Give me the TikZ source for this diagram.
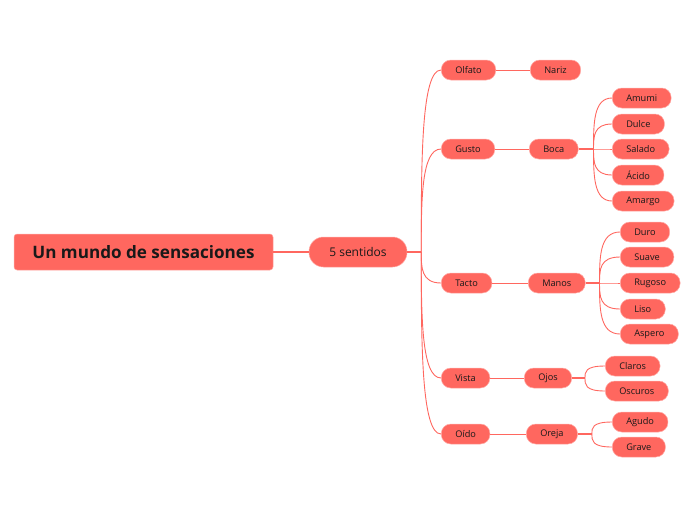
\documentclass[tikz,border=0pt]{standalone}
\usepackage{fontspec}
\usetikzlibrary{calc}
\setmainfont{Open Sans}
\definecolor{mapC}{RGB}{255,103,95}
\definecolor{mapE}{RGB}{255,170,165}
\definecolor{mapT}{RGB}{25,25,25}

\begin{document}
\begin{tikzpicture}[x=1pt,y=-1pt,
  topic/.style={fill=mapC,draw=mapE,line width=0.5pt,text=mapT,inner sep=0pt},
  leaf/.style={topic,minimum height=20pt,inner xsep=14pt,rounded corners=9.5pt,font=\fontsize{9.2}{11}\selectfont,anchor=west},
  link/.style={mapC,line width=0.9pt},
  stem/.style={mapC,line width=1.6pt}]
\useasboundingbox (0,0) rectangle (696,520);
\node[topic,minimum width=259pt,minimum height=36pt,rounded corners=3pt,font=\fontsize{17.1}{20}\selectfont\bfseries] (root) at (143.5,252) {Un mundo de sensaciones};
\node[topic,minimum width=98pt,minimum height=30pt,rounded corners=14.5pt,font=\fontsize{12}{14}\selectfont] (sent) at (358,252) {5 sentidos};
\draw[stem] (root.east)--(sent.west);
\draw[stem] (sent.east)--++(14,0) coordinate (hubS);
\foreach \n/\t/\y in {olfato/Olfato/70,gusto/Gusto/149,tacto/Tacto/283,vista/Vista/378,oido/Oído/434}{
  \node[leaf] (\n) at (441,\y) {\t};
  \draw[link] (hubS) .. controls ($(hubS)!0.5!(hubS |- \n.west)$) and (hubS |- \n.west) .. (\n.west);
}
\node[leaf] (nariz) at (530,70) {Nariz};
\node[leaf] (boca) at (529,149) {Boca};
\node[leaf] (manos) at (528,283) {Manos};
\node[leaf] (ojos) at (524,378) {Ojos};
\node[leaf] (oreja) at (526,434) {Oreja};
\draw[link] (olfato.east)--(nariz.west);
\draw[link] (gusto.east)--(boca.west);
\draw[link] (tacto.east)--(manos.west);
\draw[link] (vista.east)--(ojos.west);
\draw[link] (oido.east)--(oreja.west);
\draw[stem] (boca.east)--++(15,0) coordinate (hubB);
\foreach \n/\t/\y in {amumi/Amumi/98,dulce/Dulce/124,salado/Salado/149,acido/Ácido/175,amargo/Amargo/201}{
  \node[leaf] (\n) at (612,\y) {\t};
  \draw[link] (hubB) .. controls ($(hubB)!0.5!(hubB |- \n.west)$) and (hubB |- \n.west) .. (\n.west);
}
\draw[stem] (manos.east)--++(14,0) coordinate (hubM);
\foreach \n/\t/\y in {duro/Duro/232,suave/Suave/257,rugoso/Rugoso/283,liso/Liso/309,aspero/Aspero/334}{
  \node[leaf] (\n) at (620,\y) {\t};
  \draw[link] (hubM) .. controls ($(hubM)!0.5!(hubM |- \n.west)$) and (hubM |- \n.west) .. (\n.west);
}
\draw[stem] (ojos.east)--++(13,0) coordinate (hubO);
\foreach \n/\t/\y in {claros/Claros/366,oscuros/Oscuros/391}{
  \node[leaf] (\n) at (605,\y) {\t};
  \draw[link] (hubO) .. controls ($(hubO)!0.5!(hubO |- \n.west)$) and (hubO |- \n.west) .. (\n.west);
}
\draw[stem] (oreja.east)--++(14,0) coordinate (hubR);
\foreach \n/\t/\y in {agudo/Agudo/422,grave/Grave/447}{
  \node[leaf] (\n) at (612,\y) {\t};
  \draw[link] (hubR) .. controls ($(hubR)!0.5!(hubR |- \n.west)$) and (hubR |- \n.west) .. (\n.west);
}
\end{tikzpicture}
\end{document}
